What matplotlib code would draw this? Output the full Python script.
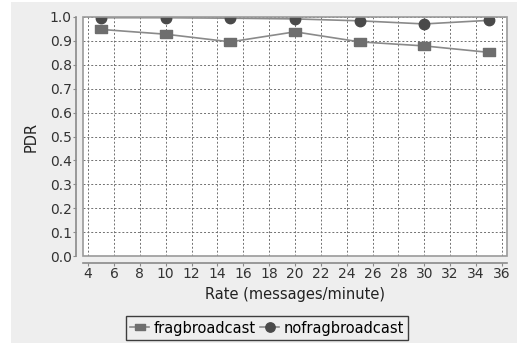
import matplotlib
matplotlib.use("Agg")
import matplotlib.pyplot as plt
from matplotlib.patches import Rectangle

rates = [5, 10, 15, 20, 25, 30, 35]
frag = [0.948, 0.928, 0.896, 0.938, 0.896, 0.879, 0.852]
nofrag = [0.997, 0.997, 0.995, 0.992, 0.984, 0.971, 0.986]
xticks = list(range(4, 37, 2))
yticks = [round(0.1 * i, 1) for i in range(11)]

plt.rcParams['font.family'] = ['DejaVu Sans']
fig = plt.figure(figsize=(5.17, 3.45), dpi=100, facecolor='white')
fig.patches.append(Rectangle((11/517, 2/345), 506/517, 341/345, transform=fig.transFigure,
                             facecolor='#eeeeee', edgecolor='none', zorder=-10))

ax = fig.add_axes([83/517, 1 - 256/345, (507 - 83)/517, (256 - 17)/345])
ax.set_facecolor('white')
rect_marker = [(-1.5, -1.0), (1.5, -1.0), (1.5, 1.0), (-1.5, 1.0), (-1.5, -1.0)]
ax.plot(rates, frag, color='#8a8a8a', lw=1.2, marker=rect_marker, ms=8, mfc='#6e6e6e', mec='#6e6e6e',
        label='fragbroadcast', zorder=3, clip_on=True)
ax.plot(rates, nofrag, color='#8a8a8a', lw=1.2, marker='o', ms=7.5, mfc='#4a4a4a', mec='#4a4a4a',
        label='nofragbroadcast', zorder=4, clip_on=True)

ax.set_xlim(3.6, 36.4)
ax.set_ylim(0.0, 1.0)
ax.set_xticks(xticks)
ax.set_yticks(yticks)
ax.set_yticklabels([f"{v:.1f}" for v in yticks])
ax.grid(True, color='#707070', linestyle=(0, (2, 2)), linewidth=0.7)
ax.set_axisbelow(True)

for s in ['top', 'right']:
    ax.spines[s].set_visible(False)
for s in ['left', 'bottom']:
    ax.spines[s].set_position(('outward', 5))
    ax.spines[s].set_color('#8a8a8a')
    ax.spines[s].set_linewidth(1.2)
ax.add_patch(Rectangle((0, 0), 1, 1, transform=ax.transAxes, fill=False,
                       edgecolor='#9a9a9a', lw=1.2, clip_on=False, zorder=5))
ax.tick_params(axis='both', length=2, width=0.8, color='#8a8a8a', labelsize=10,
               labelcolor='#333333')
ax.tick_params(axis='x', pad=1)
ax.tick_params(axis='y', pad=1)

ax.set_xlabel('Rate (messages/minute)', fontsize=10.5, color='#222222', labelpad=4)
ax.set_ylabel('PDR', fontsize=10.5, color='#222222', labelpad=8)

leg = fig.legend(loc='center', bbox_to_anchor=(267/517, 1 - 328/345), ncol=2, fontsize=10.5,
                 frameon=True, fancybox=False, edgecolor='#111111', facecolor='#eeeeee',
                 handlelength=1.3, handletextpad=0.3, columnspacing=0.3, borderpad=0.3,
                 markerscale=0.9)
leg.get_frame().set_linewidth(1.0)

fig.savefig('out.png', dpi=100, facecolor=fig.get_facecolor())
